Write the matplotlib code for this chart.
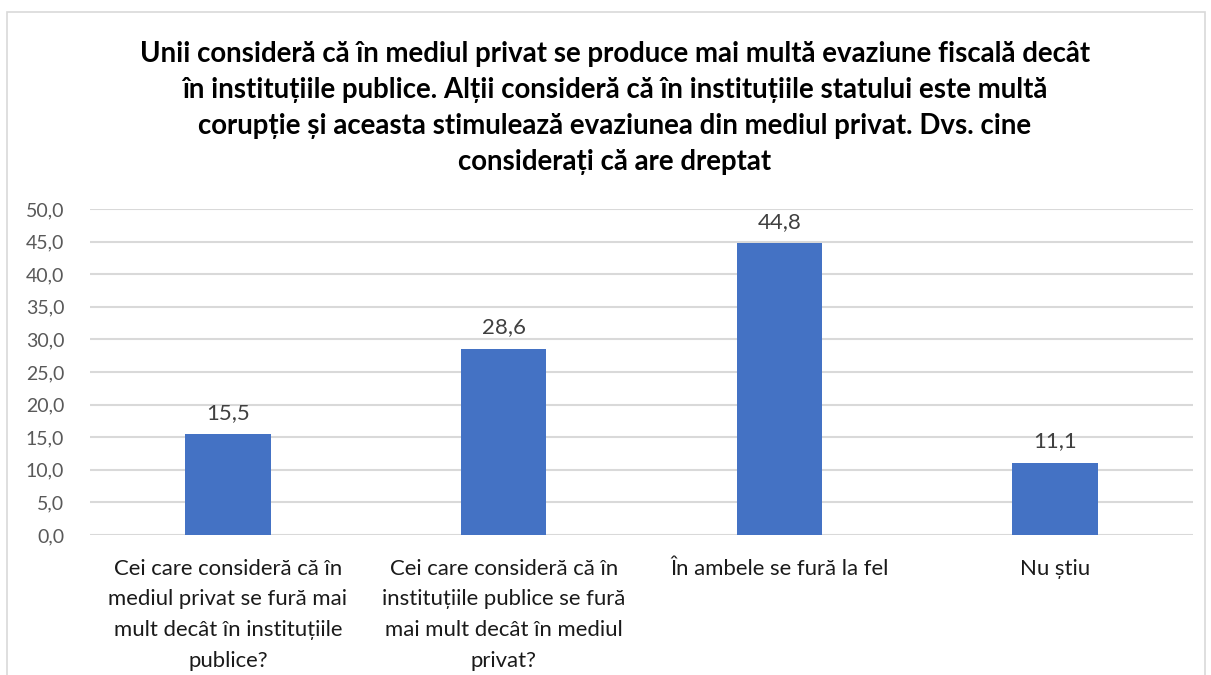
import matplotlib
matplotlib.use("Agg")
import matplotlib.pyplot as plt
from matplotlib.patches import Rectangle

plt.rcParams['font.family'] = ['Lato', 'DejaVu Sans']

categories = [
    "Cei care consideră că în\nmediul privat se fură mai\nmult decât în instituțiile\npublice?",
    "Cei care consideră că în\ninstituțiile publice se fură\nmai mult decât în mediul\nprivat?",
    "În ambele se fură la fel",
    "Nu știu",
]
values = [15.5, 28.6, 44.8, 11.1]
yticks = [0, 5, 10, 15, 20, 25, 30, 35, 40, 45, 50]
title = ("Unii consideră că în mediul privat se produce mai multă evaziune fiscală decât\n"
         "în instituțiile publice. Alții consideră că în instituțiile statului este multă\n"
         "corupție și aceasta stimulează evaziunea din mediul privat. Dvs. cine\n"
         "considerați că are dreptat")

fig = plt.figure(figsize=(12.11, 6.75), dpi=100)
fig.patches.append(Rectangle((7/1211, -0.01), (1205-7)/1211, 1 - 12/675 + 0.01,
                             transform=fig.transFigure, fill=False,
                             edgecolor='#d9d9d9', linewidth=1.2))
ax = fig.add_axes([90/1211, 1-535/675, (1193-90)/1211, (535-209)/675])

x = list(range(len(categories)))
bars = ax.bar(x, values, width=0.31, color='#4472C4', zorder=3)
ax.set_xlim(-0.5, len(categories) - 0.5)
ax.set_ylim(0, 50)
ax.set_yticks(yticks)
ax.set_yticklabels([f"{v:.1f}".replace('.', ',') for v in yticks], color='#595959', fontsize=14)
ax.set_xticks(x)
ax.set_xticklabels(categories, fontsize=15.9, color='#1a1a1a', linespacing=1.68, va='top')
ax.tick_params(axis='both', length=0)
ax.tick_params(axis='x', pad=17)
ax.tick_params(axis='y', pad=18.5)
ax.grid(axis='y', color='#d9d9d9', linewidth=1.5, zorder=0)
for s in ax.spines.values():
    s.set_visible(False)

for xi, v in zip(x, values):
    ax.annotate(f"{v:.1f}".replace('.', ','), (xi, v), xytext=(0, 8),
                textcoords='offset points', ha='center', va='bottom',
                fontsize=16, color='#404040')

fig.text(615/1211, 1 - 41/675, title, ha='center', va='top', fontsize=19.9,
         fontweight='bold', color='#000000', linespacing=1.48)

fig.savefig('out.png', dpi=100)
